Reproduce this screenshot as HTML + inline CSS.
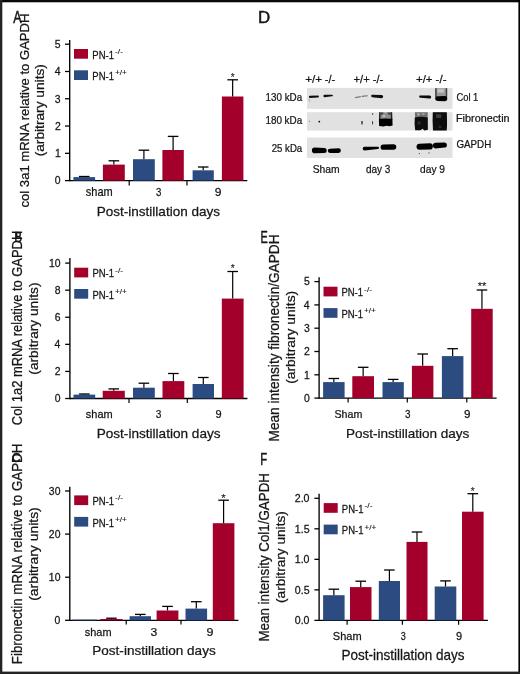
<!DOCTYPE html>
<html><head><meta charset="utf-8"><style>
html,body{margin:0;padding:0;background:#fff;width:520px;height:674px;overflow:hidden}
text{stroke:#161616;stroke-width:.25px}
text.L{stroke-width:.5px}
text.S{stroke-width:.12px}
</style></head><body>
<svg width="520" height="674" viewBox="0 0 520 674" style="display:block;will-change:transform">
<defs><filter id="bl" x="-20%" y="-50%" width="140%" height="200%"><feGaussianBlur stdDeviation="0.45"/></filter><filter id="rg" x="-10%" y="-10%" width="120%" height="120%"><feGaussianBlur stdDeviation="0.75"/></filter></defs>
<g font-family='"Liberation Sans", sans-serif'>
<line x1="69.7" y1="40" x2="69.7" y2="181.25" stroke="#000" stroke-width="1.35"/>
<line x1="65.0" y1="44.2" x2="69.7" y2="44.2" stroke="#000" stroke-width="1.3"/>
<text transform="translate(54.84 47.97) scale(1.0001 1)" font-size="10.4" fill="#161616">5</text>
<line x1="65.0" y1="71.48" x2="69.7" y2="71.48" stroke="#000" stroke-width="1.3"/>
<text transform="translate(54.71 75.31) scale(1.0001 1)" font-size="10.4" fill="#161616">4</text>
<line x1="65.0" y1="98.76" x2="69.7" y2="98.76" stroke="#000" stroke-width="1.3"/>
<text transform="translate(54.87 102.59) scale(1.0001 1)" font-size="10.4" fill="#161616">3</text>
<line x1="65.0" y1="126.04" x2="69.7" y2="126.04" stroke="#000" stroke-width="1.3"/>
<text transform="translate(54.95 129.92) scale(1.0001 1)" font-size="10.4" fill="#161616">2</text>
<line x1="65.0" y1="153.32" x2="69.7" y2="153.32" stroke="#000" stroke-width="1.3"/>
<text transform="translate(54.92 157.14) scale(1.0001 1)" font-size="10.4" fill="#161616">1</text>
<line x1="65.0" y1="180.60000000000002" x2="69.7" y2="180.60000000000002" stroke="#000" stroke-width="1.3"/>
<text transform="translate(54.82 184.43) scale(1.0001 1)" font-size="10.4" fill="#161616">0</text>
<line x1="69.7" y1="180.6" x2="247.3" y2="180.6" stroke="#000" stroke-width="1.35"/>
<line x1="129.2" y1="180.6" x2="129.2" y2="185.4" stroke="#000" stroke-width="1.2"/>
<line x1="187" y1="180.6" x2="187" y2="185.4" stroke="#000" stroke-width="1.2"/>
<rect x="73.4" y="177.1" width="21.69999999999999" height="3.5" fill="#2c4b80"/>
<line x1="84.25" y1="177.1" x2="84.25" y2="176.5" stroke="#000" stroke-width="1.2"/>
<line x1="78.95" y1="176.5" x2="89.55" y2="176.5" stroke="#000" stroke-width="1.3"/>
<rect x="102.9" y="164.6" width="21.89999999999999" height="16.0" fill="#a3002b"/>
<line x1="113.85" y1="164.6" x2="113.85" y2="160.79999999999998" stroke="#000" stroke-width="1.2"/>
<line x1="108.55" y1="160.79999999999998" x2="119.14999999999999" y2="160.79999999999998" stroke="#000" stroke-width="1.3"/>
<rect x="133" y="159.2" width="21.80000000000001" height="21.400000000000006" fill="#2c4b80"/>
<line x1="143.9" y1="159.2" x2="143.9" y2="150.2" stroke="#000" stroke-width="1.2"/>
<line x1="138.6" y1="150.2" x2="149.20000000000002" y2="150.2" stroke="#000" stroke-width="1.3"/>
<rect x="162.4" y="150" width="21.400000000000006" height="30.599999999999994" fill="#a3002b"/>
<line x1="173.10000000000002" y1="150" x2="173.10000000000002" y2="136.39999999999998" stroke="#000" stroke-width="1.2"/>
<line x1="167.8" y1="136.39999999999998" x2="178.40000000000003" y2="136.39999999999998" stroke="#000" stroke-width="1.3"/>
<rect x="192.6" y="170.3" width="21.200000000000017" height="10.299999999999983" fill="#2c4b80"/>
<line x1="203.2" y1="170.3" x2="203.2" y2="167.0" stroke="#000" stroke-width="1.2"/>
<line x1="197.89999999999998" y1="167.0" x2="208.5" y2="167.0" stroke="#000" stroke-width="1.3"/>
<rect x="221.9" y="96.5" width="21.5" height="84.1" fill="#a3002b"/>
<line x1="232.65" y1="96.5" x2="232.65" y2="79.8" stroke="#000" stroke-width="1.2"/>
<line x1="227.35" y1="79.8" x2="237.95000000000002" y2="79.8" stroke="#000" stroke-width="1.3"/>
<text x="230.85" y="80.67" font-size="10.00" fill="#1a1a1a" class="S">*</text>
<text transform="translate(85.80 196.10) scale(0.9281 1)" font-size="11.86" fill="#161616">sham</text>
<text transform="translate(155.94 196.10) scale(0.8237 1)" font-size="11.76" fill="#161616">3</text>
<text transform="translate(214.72 196.10) scale(1.0299 1)" font-size="11.76" fill="#161616">9</text>
<text transform="translate(96.68 215.60) scale(1.0126 1)" font-size="13.38" fill="#161616">Post-instillation days</text>
<rect x="74" y="49" width="14" height="9.7" fill="#a3002b"/>
<rect x="74" y="70.3" width="14" height="9.7" fill="#2c4b80"/>
<text transform="translate(92.32 58.70) scale(0.8825 1)" font-size="10.76" fill="#161616">PN-1</text>
<text transform="translate(115.02 54.00) scale(1.1080 1)" font-size="7.60" fill="#161616" class="S">-/-</text>
<text transform="translate(92.32 80.00) scale(0.8825 1)" font-size="10.76" fill="#161616">PN-1</text>
<text transform="translate(115.01 75.30) scale(1.0721 1)" font-size="7.60" fill="#161616" class="S">+/+</text>
<text transform="translate(29.40 207.46) rotate(-90) scale(0.9575 1)" font-size="13.66" fill="#161616">col 3a1 mRNA relative to GAPDH</text>
<text transform="translate(44.40 156.36) rotate(-90) scale(1.1070 1)" font-size="12.41" fill="#161616">(arbitrary units)</text>
<text transform="translate(13.37 22.80) scale(0.7622 1)" font-size="16.44" fill="#161616" class="L">A</text>
<line x1="69.9" y1="258.1" x2="69.9" y2="399.15" stroke="#000" stroke-width="1.35"/>
<line x1="65.2" y1="263.1" x2="69.9" y2="263.1" stroke="#000" stroke-width="1.3"/>
<text transform="translate(48.95 266.93) scale(1.0001 1)" font-size="10.4" fill="#161616">10</text>
<line x1="65.2" y1="290.18" x2="69.9" y2="290.18" stroke="#000" stroke-width="1.3"/>
<text transform="translate(54.77 294.00) scale(1.0001 1)" font-size="10.4" fill="#161616">8</text>
<line x1="65.2" y1="317.26" x2="69.9" y2="317.26" stroke="#000" stroke-width="1.3"/>
<text transform="translate(54.77 321.08) scale(1.0001 1)" font-size="10.4" fill="#161616">6</text>
<line x1="65.2" y1="344.34000000000003" x2="69.9" y2="344.34000000000003" stroke="#000" stroke-width="1.3"/>
<text transform="translate(54.61 348.17) scale(1.0001 1)" font-size="10.4" fill="#161616">4</text>
<line x1="65.2" y1="371.42" x2="69.9" y2="371.42" stroke="#000" stroke-width="1.3"/>
<text transform="translate(54.85 375.30) scale(1.0001 1)" font-size="10.4" fill="#161616">2</text>
<line x1="65.2" y1="398.5" x2="69.9" y2="398.5" stroke="#000" stroke-width="1.3"/>
<text transform="translate(54.72 402.32) scale(1.0001 1)" font-size="10.4" fill="#161616">0</text>
<line x1="69.9" y1="398.5" x2="247.4" y2="398.5" stroke="#000" stroke-width="1.35"/>
<line x1="129" y1="398.5" x2="129" y2="403.0" stroke="#000" stroke-width="1.2"/>
<line x1="187.3" y1="398.5" x2="187.3" y2="403.0" stroke="#000" stroke-width="1.2"/>
<rect x="73.5" y="394.6" width="21.700000000000003" height="3.8999999999999773" fill="#2c4b80"/>
<line x1="84.35" y1="394.6" x2="84.35" y2="394.0" stroke="#000" stroke-width="1.2"/>
<line x1="79.05" y1="394.0" x2="89.64999999999999" y2="394.0" stroke="#000" stroke-width="1.3"/>
<rect x="102.7" y="390.8" width="22.099999999999994" height="7.699999999999989" fill="#a3002b"/>
<line x1="113.75" y1="390.8" x2="113.75" y2="388.9" stroke="#000" stroke-width="1.2"/>
<line x1="108.45" y1="388.9" x2="119.05" y2="388.9" stroke="#000" stroke-width="1.3"/>
<rect x="133" y="387.7" width="21.80000000000001" height="10.800000000000011" fill="#2c4b80"/>
<line x1="143.9" y1="387.7" x2="143.9" y2="383.2" stroke="#000" stroke-width="1.2"/>
<line x1="138.6" y1="383.2" x2="149.20000000000002" y2="383.2" stroke="#000" stroke-width="1.3"/>
<rect x="162.5" y="381.1" width="21.80000000000001" height="17.399999999999977" fill="#a3002b"/>
<line x1="173.4" y1="381.1" x2="173.4" y2="373.5" stroke="#000" stroke-width="1.2"/>
<line x1="168.1" y1="373.5" x2="178.70000000000002" y2="373.5" stroke="#000" stroke-width="1.3"/>
<rect x="192.6" y="384" width="21.400000000000006" height="14.5" fill="#2c4b80"/>
<line x1="203.3" y1="384" x2="203.3" y2="377.5" stroke="#000" stroke-width="1.2"/>
<line x1="198.0" y1="377.5" x2="208.60000000000002" y2="377.5" stroke="#000" stroke-width="1.3"/>
<rect x="221.8" y="298.6" width="21.799999999999983" height="99.89999999999998" fill="#a3002b"/>
<line x1="232.7" y1="298.6" x2="232.7" y2="271.5" stroke="#000" stroke-width="1.2"/>
<line x1="227.39999999999998" y1="271.5" x2="238.0" y2="271.5" stroke="#000" stroke-width="1.3"/>
<text x="230.69" y="272.47" font-size="10.29" fill="#1a1a1a" class="S">*</text>
<text transform="translate(85.80 417.90) scale(0.9502 1)" font-size="11.59" fill="#161616">sham</text>
<text transform="translate(155.82 417.90) scale(0.8596 1)" font-size="11.76" fill="#161616">3</text>
<text transform="translate(215.38 417.90) scale(0.9380 1)" font-size="11.76" fill="#161616">9</text>
<text transform="translate(96.68 437.70) scale(1.0064 1)" font-size="13.52" fill="#161616">Post-instillation days</text>
<rect x="74.2" y="267.7" width="14" height="9.7" fill="#a3002b"/>
<rect x="74.2" y="289" width="14" height="9.7" fill="#2c4b80"/>
<text transform="translate(92.42 277.40) scale(0.8825 1)" font-size="10.76" fill="#161616">PN-1</text>
<text transform="translate(115.12 272.70) scale(1.1080 1)" font-size="7.60" fill="#161616" class="S">-/-</text>
<text transform="translate(92.42 298.70) scale(0.8825 1)" font-size="10.76" fill="#161616">PN-1</text>
<text transform="translate(115.11 294.00) scale(1.0721 1)" font-size="7.60" fill="#161616" class="S">+/+</text>
<text transform="translate(22.20 425.15) rotate(-90) scale(0.8837 1)" font-size="14.62" fill="#161616">Col 1a2 mRNA relative to GAPDH</text>
<text transform="translate(38.20 374.66) rotate(-90) scale(1.0144 1)" font-size="13.52" fill="#161616">(arbitrary units)</text>
<text transform="translate(14.34 242.40) scale(0.7925 1)" font-size="14.69" fill="#161616" class="L">B</text>
<line x1="69.8" y1="486.7" x2="69.8" y2="621.05" stroke="#000" stroke-width="1.35"/>
<line x1="65.1" y1="491.0" x2="69.8" y2="491.0" stroke="#000" stroke-width="1.3"/>
<text transform="translate(48.85 494.82) scale(1.0001 1)" font-size="10.4" fill="#161616">30</text>
<line x1="65.1" y1="534.1" x2="69.8" y2="534.1" stroke="#000" stroke-width="1.3"/>
<text transform="translate(48.85 537.93) scale(1.0001 1)" font-size="10.4" fill="#161616">20</text>
<line x1="65.1" y1="577.2" x2="69.8" y2="577.2" stroke="#000" stroke-width="1.3"/>
<text transform="translate(48.85 581.03) scale(1.0001 1)" font-size="10.4" fill="#161616">10</text>
<line x1="65.1" y1="620.3" x2="69.8" y2="620.3" stroke="#000" stroke-width="1.3"/>
<text transform="translate(54.62 624.12) scale(1.0001 1)" font-size="10.4" fill="#161616">0</text>
<line x1="69.8" y1="620.4" x2="238.4" y2="620.4" stroke="#000" stroke-width="1.35"/>
<line x1="126.2" y1="620.4" x2="126.2" y2="624.6" stroke="#000" stroke-width="1.2"/>
<line x1="181" y1="620.4" x2="181" y2="624.6" stroke="#000" stroke-width="1.2"/>
<rect x="72.5" y="619.6" width="24.0" height="0.7999999999999545" fill="#2c4b80"/>
<rect x="100.4" y="619.0" width="22.099999999999994" height="1.3999999999999773" fill="#a3002b"/>
<line x1="111.45" y1="619.0" x2="111.45" y2="618.2" stroke="#000" stroke-width="1.2"/>
<line x1="106.15" y1="618.2" x2="116.75" y2="618.2" stroke="#000" stroke-width="1.3"/>
<rect x="129.6" y="616.2" width="21.400000000000006" height="4.199999999999932" fill="#2c4b80"/>
<line x1="140.3" y1="616.2" x2="140.3" y2="614.4000000000001" stroke="#000" stroke-width="1.2"/>
<line x1="135.0" y1="614.4000000000001" x2="145.60000000000002" y2="614.4000000000001" stroke="#000" stroke-width="1.3"/>
<rect x="156.6" y="610.5" width="21.80000000000001" height="9.899999999999977" fill="#a3002b"/>
<line x1="167.5" y1="610.5" x2="167.5" y2="606.4000000000001" stroke="#000" stroke-width="1.2"/>
<line x1="162.2" y1="606.4000000000001" x2="172.8" y2="606.4000000000001" stroke="#000" stroke-width="1.3"/>
<rect x="185.5" y="608.6" width="21.599999999999994" height="11.799999999999955" fill="#2c4b80"/>
<line x1="196.3" y1="608.6" x2="196.3" y2="601.7" stroke="#000" stroke-width="1.2"/>
<line x1="191.0" y1="601.7" x2="201.60000000000002" y2="601.7" stroke="#000" stroke-width="1.3"/>
<rect x="212.8" y="523.2" width="21.599999999999994" height="97.19999999999993" fill="#a3002b"/>
<line x1="223.60000000000002" y1="523.2" x2="223.60000000000002" y2="500.2" stroke="#000" stroke-width="1.2"/>
<line x1="218.3" y1="500.2" x2="228.90000000000003" y2="500.2" stroke="#000" stroke-width="1.3"/>
<text x="221.37" y="502.16" font-size="11.43" fill="#1a1a1a" class="S">*</text>
<text transform="translate(84.80 635.80) scale(0.9466 1)" font-size="11.59" fill="#161616">sham</text>
<text transform="translate(150.54 635.80) scale(1.0386 1)" font-size="11.76" fill="#161616">3</text>
<text transform="translate(206.60 635.80) scale(1.0667 1)" font-size="11.76" fill="#161616">9</text>
<text transform="translate(92.28 655.00) scale(1.0449 1)" font-size="12.97" fill="#161616">Post-instillation days</text>
<rect x="74.2" y="495.4" width="14" height="9.7" fill="#a3002b"/>
<rect x="74.2" y="516.9" width="14" height="9.7" fill="#2c4b80"/>
<text transform="translate(92.42 505.10) scale(0.8825 1)" font-size="10.76" fill="#161616">PN-1</text>
<text transform="translate(115.12 500.40) scale(1.1080 1)" font-size="7.60" fill="#161616" class="S">-/-</text>
<text transform="translate(92.42 526.60) scale(0.8825 1)" font-size="10.76" fill="#161616">PN-1</text>
<text transform="translate(115.11 521.90) scale(1.0721 1)" font-size="7.60" fill="#161616" class="S">+/+</text>
<text transform="translate(21.90 664.20) rotate(-90) scale(0.9375 1)" font-size="14.21" fill="#161616">Fibronectin mRNA relative to GAPDH</text>
<text transform="translate(38.20 600.87) rotate(-90) scale(1.0301 1)" font-size="13.52" fill="#161616">(arbitrary units)</text>
<text transform="translate(12.11 462.00) scale(0.8672 1)" font-size="13.62" fill="#161616" class="L">C</text>
<line x1="319.1" y1="277.3" x2="319.1" y2="398.75" stroke="#000" stroke-width="1.35"/>
<line x1="314.40000000000003" y1="281.6" x2="319.1" y2="281.6" stroke="#000" stroke-width="1.3"/>
<text transform="translate(303.94 285.37) scale(1.0001 1)" font-size="10.4" fill="#161616">5</text>
<line x1="314.40000000000003" y1="304.90000000000003" x2="319.1" y2="304.90000000000003" stroke="#000" stroke-width="1.3"/>
<text transform="translate(303.81 308.73) scale(1.0001 1)" font-size="10.4" fill="#161616">4</text>
<line x1="314.40000000000003" y1="328.20000000000005" x2="319.1" y2="328.20000000000005" stroke="#000" stroke-width="1.3"/>
<text transform="translate(303.97 332.03) scale(1.0001 1)" font-size="10.4" fill="#161616">3</text>
<line x1="314.40000000000003" y1="351.5" x2="319.1" y2="351.5" stroke="#000" stroke-width="1.3"/>
<text transform="translate(304.05 355.38) scale(1.0001 1)" font-size="10.4" fill="#161616">2</text>
<line x1="314.40000000000003" y1="374.8" x2="319.1" y2="374.8" stroke="#000" stroke-width="1.3"/>
<text transform="translate(304.02 378.62) scale(1.0001 1)" font-size="10.4" fill="#161616">1</text>
<line x1="314.40000000000003" y1="398.1" x2="319.1" y2="398.1" stroke="#000" stroke-width="1.3"/>
<text transform="translate(303.92 401.93) scale(1.0001 1)" font-size="10.4" fill="#161616">0</text>
<line x1="319.1" y1="398.1" x2="496.6" y2="398.1" stroke="#000" stroke-width="1.35"/>
<line x1="348.1" y1="398.1" x2="348.1" y2="402.6" stroke="#000" stroke-width="1.2"/>
<line x1="407.3" y1="398.1" x2="407.3" y2="402.6" stroke="#000" stroke-width="1.2"/>
<line x1="466.8" y1="398.1" x2="466.8" y2="402.6" stroke="#000" stroke-width="1.2"/>
<rect x="323.1" y="382.1" width="21.5" height="16.0" fill="#2c4b80"/>
<line x1="333.85" y1="382.1" x2="333.85" y2="378.5" stroke="#000" stroke-width="1.2"/>
<line x1="328.55" y1="378.5" x2="339.15000000000003" y2="378.5" stroke="#000" stroke-width="1.3"/>
<rect x="352.3" y="376.2" width="21.69999999999999" height="21.900000000000034" fill="#a3002b"/>
<line x1="363.15" y1="376.2" x2="363.15" y2="367.3" stroke="#000" stroke-width="1.2"/>
<line x1="357.84999999999997" y1="367.3" x2="368.45" y2="367.3" stroke="#000" stroke-width="1.3"/>
<rect x="382.5" y="382.1" width="21.30000000000001" height="16.0" fill="#2c4b80"/>
<line x1="393.15" y1="382.1" x2="393.15" y2="379.4" stroke="#000" stroke-width="1.2"/>
<line x1="387.84999999999997" y1="379.4" x2="398.45" y2="379.4" stroke="#000" stroke-width="1.3"/>
<rect x="411.9" y="365.8" width="21.5" height="32.30000000000001" fill="#a3002b"/>
<line x1="422.65" y1="365.8" x2="422.65" y2="354.0" stroke="#000" stroke-width="1.2"/>
<line x1="417.34999999999997" y1="354.0" x2="427.95" y2="354.0" stroke="#000" stroke-width="1.3"/>
<rect x="441.9" y="356.1" width="21.5" height="42.0" fill="#2c4b80"/>
<line x1="452.65" y1="356.1" x2="452.65" y2="348.7" stroke="#000" stroke-width="1.2"/>
<line x1="447.34999999999997" y1="348.7" x2="457.95" y2="348.7" stroke="#000" stroke-width="1.3"/>
<rect x="471.2" y="308.8" width="21.5" height="89.30000000000001" fill="#a3002b"/>
<line x1="481.95" y1="308.8" x2="481.95" y2="290.0" stroke="#000" stroke-width="1.2"/>
<line x1="476.65" y1="290.0" x2="487.25" y2="290.0" stroke="#000" stroke-width="1.3"/>
<text x="477.75" y="290.36" font-size="11.14" fill="#1a1a1a" class="S">**</text>
<text transform="translate(334.42 417.70) scale(0.9917 1)" font-size="10.76" fill="#161616">Sham</text>
<text transform="translate(404.93 417.70) scale(0.8848 1)" font-size="11.18" fill="#161616">3</text>
<text transform="translate(464.05 417.70) scale(1.0441 1)" font-size="11.18" fill="#161616">9</text>
<text transform="translate(345.98 437.50) scale(0.9914 1)" font-size="13.66" fill="#161616">Post-instillation days</text>
<rect x="323.5" y="286.7" width="14" height="9.7" fill="#a3002b"/>
<rect x="323.5" y="308.1" width="14" height="9.7" fill="#2c4b80"/>
<text transform="translate(341.42 296.40) scale(0.8825 1)" font-size="10.76" fill="#161616">PN-1</text>
<text transform="translate(364.12 291.70) scale(1.1080 1)" font-size="7.60" fill="#161616" class="S">-/-</text>
<text transform="translate(341.42 317.80) scale(0.8825 1)" font-size="10.76" fill="#161616">PN-1</text>
<text transform="translate(364.11 313.10) scale(1.0721 1)" font-size="7.60" fill="#161616" class="S">+/+</text>
<text transform="translate(278.80 441.43) rotate(-90) scale(0.9604 1)" font-size="14.21" fill="#161616">Mean intensity fibronectin/GAPDH</text>
<text transform="translate(294.50 383.87) rotate(-90) scale(1.0245 1)" font-size="13.52" fill="#161616">(arbitrary units)</text>
<text transform="translate(260.40 243.20) scale(0.6676 1)" font-size="16.29" fill="#161616" class="L">E</text>
<line x1="319.1" y1="493.8" x2="319.1" y2="621.05" stroke="#000" stroke-width="1.35"/>
<line x1="314.40000000000003" y1="498.3" x2="319.1" y2="498.3" stroke="#000" stroke-width="1.3"/>
<text transform="translate(294.76 502.19) scale(1.0001 1)" font-size="10.6" fill="#161616">2.0</text>
<line x1="314.40000000000003" y1="528.82" x2="319.1" y2="528.82" stroke="#000" stroke-width="1.3"/>
<text transform="translate(294.79 532.66) scale(1.0001 1)" font-size="10.6" fill="#161616">1.5</text>
<line x1="314.40000000000003" y1="559.34" x2="319.1" y2="559.34" stroke="#000" stroke-width="1.3"/>
<text transform="translate(294.76 563.23) scale(1.0001 1)" font-size="10.6" fill="#161616">1.0</text>
<line x1="314.40000000000003" y1="589.86" x2="319.1" y2="589.86" stroke="#000" stroke-width="1.3"/>
<text transform="translate(294.79 593.75) scale(1.0001 1)" font-size="10.6" fill="#161616">0.5</text>
<line x1="314.40000000000003" y1="620.38" x2="319.1" y2="620.38" stroke="#000" stroke-width="1.3"/>
<text transform="translate(294.76 624.27) scale(1.0001 1)" font-size="10.6" fill="#161616">0.0</text>
<line x1="319.1" y1="620.4" x2="487.9" y2="620.4" stroke="#000" stroke-width="1.35"/>
<line x1="347.1" y1="620.4" x2="347.1" y2="624.6999999999999" stroke="#000" stroke-width="1.2"/>
<line x1="402.4" y1="620.4" x2="402.4" y2="624.6999999999999" stroke="#000" stroke-width="1.2"/>
<line x1="458.6" y1="620.4" x2="458.6" y2="624.6999999999999" stroke="#000" stroke-width="1.2"/>
<rect x="323.1" y="595.2" width="21.5" height="25.199999999999932" fill="#2c4b80"/>
<line x1="333.85" y1="595.2" x2="333.85" y2="589.2" stroke="#000" stroke-width="1.2"/>
<line x1="328.55" y1="589.2" x2="339.15000000000003" y2="589.2" stroke="#000" stroke-width="1.3"/>
<rect x="350" y="587.1" width="21.5" height="33.299999999999955" fill="#a3002b"/>
<line x1="360.75" y1="587.1" x2="360.75" y2="581.2" stroke="#000" stroke-width="1.2"/>
<line x1="355.45" y1="581.2" x2="366.05" y2="581.2" stroke="#000" stroke-width="1.3"/>
<rect x="378.8" y="581" width="21.19999999999999" height="39.39999999999998" fill="#2c4b80"/>
<line x1="389.4" y1="581" x2="389.4" y2="570.0" stroke="#000" stroke-width="1.2"/>
<line x1="384.09999999999997" y1="570.0" x2="394.7" y2="570.0" stroke="#000" stroke-width="1.3"/>
<rect x="406.5" y="541.9" width="21.0" height="78.5" fill="#a3002b"/>
<line x1="417.0" y1="541.9" x2="417.0" y2="532.0" stroke="#000" stroke-width="1.2"/>
<line x1="411.7" y1="532.0" x2="422.3" y2="532.0" stroke="#000" stroke-width="1.3"/>
<rect x="434.7" y="586.5" width="21.600000000000023" height="33.89999999999998" fill="#2c4b80"/>
<line x1="445.5" y1="586.5" x2="445.5" y2="580.9000000000001" stroke="#000" stroke-width="1.2"/>
<line x1="440.2" y1="580.9000000000001" x2="450.8" y2="580.9000000000001" stroke="#000" stroke-width="1.3"/>
<rect x="462" y="511.7" width="21.600000000000023" height="108.69999999999999" fill="#a3002b"/>
<line x1="472.8" y1="511.7" x2="472.8" y2="493.7" stroke="#000" stroke-width="1.2"/>
<line x1="467.5" y1="493.7" x2="478.1" y2="493.7" stroke="#000" stroke-width="1.3"/>
<text x="470.85" y="494.88" font-size="10.00" fill="#1a1a1a" class="S">*</text>
<text transform="translate(332.80 639.50) scale(1.0384 1)" font-size="10.62" fill="#161616">Sham</text>
<text transform="translate(400.66 639.50) scale(0.8200 1)" font-size="11.04" fill="#161616">3</text>
<text transform="translate(456.08 639.50) scale(0.9989 1)" font-size="11.04" fill="#161616">9</text>
<text transform="translate(341.48 659.50) scale(0.9806 1)" font-size="13.79" fill="#161616">Post-instillation days</text>
<rect x="323.7" y="503.1" width="14" height="9.7" fill="#a3002b"/>
<rect x="323.7" y="524.6" width="14" height="9.7" fill="#2c4b80"/>
<text transform="translate(341.82 512.80) scale(0.8825 1)" font-size="10.76" fill="#161616">PN-1</text>
<text transform="translate(364.52 508.10) scale(1.1080 1)" font-size="7.60" fill="#161616" class="S">-/-</text>
<text transform="translate(341.82 534.30) scale(0.8825 1)" font-size="10.76" fill="#161616">PN-1</text>
<text transform="translate(364.51 529.60) scale(1.0721 1)" font-size="7.60" fill="#161616" class="S">+/+</text>
<text transform="translate(268.80 641.50) rotate(-90) scale(0.9400 1)" font-size="14.21" fill="#161616">Mean intensity Col1/GAPDH</text>
<text transform="translate(284.90 602.95) rotate(-90) scale(1.0321 1)" font-size="13.24" fill="#161616">(arbitrary units)</text>
<text transform="translate(260.37 465.20) scale(0.6573 1)" font-size="17.16" fill="#161616" class="L">F</text>
<rect x="307.0" y="87.9" width="145.5" height="21.0" fill="#e1e1e1"/>
<rect x="307.0" y="112.2" width="145.5" height="18.39999999999999" fill="#e1e1e1"/>
<rect x="307.0" y="137.5" width="145.5" height="20.5" fill="#e1e1e1"/>
<g filter="url(#bl)">
<path d="M310.05,95.75 L317.90,95.50 Q318.90,95.50 318.90,96.50 Q318.90,97.50 317.90,97.50 L310.05,98.05 Q308.90,98.05 308.90,96.90 Q308.90,95.75 310.05,95.75Z" fill="#111" opacity="1.0"/>
<path d="M309.10,99.00 L310.00,101.10 Q310.40,101.10 310.40,101.50 Q310.40,101.90 310.00,101.90 L309.10,100.00 Q308.60,100.00 308.60,99.50 Q308.60,99.00 309.10,99.00Z" fill="#333" opacity="0.6"/>
<path d="M324.65,94.75 L332.10,94.70 Q332.90,94.70 332.90,95.50 Q332.90,96.30 332.10,96.30 L324.65,97.25 Q323.40,97.25 323.40,96.00 Q323.40,94.75 324.65,94.75Z" fill="#111" opacity="1.0"/>
<path d="M355.40,97.00 L360.40,96.00 Q361.00,96.00 361.00,96.60 Q361.00,97.20 360.40,97.20 L355.40,98.20 Q354.80,98.20 354.80,97.60 Q354.80,97.00 355.40,97.00Z" fill="#222" opacity="0.55"/>
<path d="M362.15,95.65 L367.25,95.25 Q367.80,95.25 367.80,95.80 Q367.80,96.35 367.25,96.35 L362.15,96.95 Q361.50,96.95 361.50,96.30 Q361.50,95.65 362.15,95.65Z" fill="#222" opacity="0.6"/>
<path d="M372.35,94.85 L381.50,94.90 Q383.20,94.90 383.20,96.60 Q383.20,98.30 381.50,98.30 L372.35,97.15 Q371.20,97.15 371.20,96.00 Q371.20,94.85 372.35,94.85Z" fill="#0a0a0a" opacity="1.0"/>
<path d="M420.20,95.50 L429.60,95.40 Q431.20,95.40 431.20,97.00 Q431.20,98.60 429.60,98.60 L420.20,97.70 Q419.10,97.70 419.10,96.60 Q419.10,95.50 420.20,95.50Z" fill="#0a0a0a" opacity="1.0"/>
<rect x="435.3" y="88.2" width="11.8" height="8.5" fill="#9a9a9a"/>
<rect x="437.5" y="89.2" width="6.5" height="3.5" fill="#c4c4c4"/>
<rect x="435.2" y="88.2" width="1.4" height="9" fill="#222" opacity="0.8"/>
<rect x="445.8" y="88.2" width="1.4" height="9" fill="#222" opacity="0.8"/>
<path d="M437.50,96.20 L444.70,96.00 Q447.30,96.00 447.30,98.60 Q447.30,101.20 444.70,101.20 L437.50,101.00 Q435.10,101.00 435.10,98.60 Q435.10,96.20 437.50,96.20Z" fill="#000" opacity="1.0"/>
<circle cx="319.3" cy="121.6" r="0.9" fill="#000"/>
<circle cx="309.6" cy="121.2" r="0.5" fill="#555"/>
<rect x="361.4" y="121.0" width="1.2" height="3.4" fill="#111"/>
<rect x="372.1" y="113.2" width="1.0" height="1.6" fill="#333"/>
<rect x="372.1" y="121.2" width="1.0" height="3.2" fill="#333"/>
</g><g filter="url(#rg)">
<rect x="379.2" y="112.4" width="12.8" height="7" fill="#8e8e8e"/>
<path d="M379.2,112.3 L380.6,112.3 L380.4,119.5 L379.0,119.5Z" fill="#222"/>
<path d="M390.7,112.3 L392.2,112.3 L392.4,119.5 L390.9,119.5Z" fill="#222"/>
<path d="M380.5,112.4 L383.5,112.4 L383,114.6 L381,115Z" fill="#444"/>
<path d="M387.5,112.4 L390.8,112.4 L390.5,115 L388,114.4Z" fill="#444"/>
<rect x="382.6" y="114.8" width="2.5" height="2.4" fill="#bbb"/>
<path d="M378.9,118.9 L385,118.4 L392.4,118.7 L392.6,125.6 L389.5,126.3 L386.5,125.7 L383.5,126.5 L379.1,125.9Z" fill="#060606"/>
<path d="M414.9,112.3 L427.8,112.3 L427.6,118.5 L415.2,118.8Z" fill="#6e6e6e"/>
<rect x="417.2" y="113.3" width="2.6" height="2.2" fill="#b0b0b0"/>
<rect x="421.8" y="113.0" width="3.0" height="2.0" fill="#9a9a9a"/>
<path d="M414.8,117.6 L421,116.8 L427.8,117.4 L427.9,129.8 L424.5,130.4 L422.5,128.8 L420.5,130.3 L415.2,130.2 L414.6,124Z" fill="#0b0b0b"/>
<rect x="417.2" y="121.5" width="3.5" height="3" fill="#2a2a2a"/>
<path d="M432.8,112.3 L446.8,112.3 L447,124 L446.7,130.5 L433,130.5 L432.6,121Z" fill="#070707"/>
<rect x="435.8" y="114.2" width="5.5" height="4.0" fill="#3a3a3a"/>
<rect x="438.5" y="125.5" width="3.0" height="2.5" fill="#2a2a2a"/>
</g><g filter="url(#bl)">
<path d="M314.70,147.60 L324.20,147.90 Q326.70,147.90 326.70,150.40 Q326.70,152.90 324.20,152.90 L314.70,153.20 Q311.90,153.20 311.90,150.40 Q311.90,147.60 314.70,147.60Z" fill="#000" opacity="1.0"/>
<path d="M329.90,148.70 L338.50,148.20 Q340.90,148.20 340.90,150.60 Q340.90,153.00 338.50,153.00 L329.90,152.90 Q327.80,152.90 327.80,150.80 Q327.80,148.70 329.90,148.70Z" fill="#000" opacity="1.0"/>
<path d="M364.65,146.65 L377.85,146.75 Q379.00,146.75 379.00,147.90 Q379.00,149.05 377.85,149.05 L364.65,150.55 Q362.70,150.55 362.70,148.60 Q362.70,146.65 364.65,146.65Z" fill="#000" opacity="1.0"/>
<path d="M383.20,144.60 L393.50,144.20 Q396.30,144.20 396.30,147.00 Q396.30,149.80 393.50,149.80 L383.20,149.80 Q380.60,149.80 380.60,147.20 Q380.60,144.60 383.20,144.60Z" fill="#000" opacity="1.0"/>
<path d="M419.50,143.80 L429.80,143.30 Q432.90,143.30 432.90,146.40 Q432.90,149.50 429.80,149.50 L419.50,149.80 Q416.50,149.80 416.50,146.80 Q416.50,143.80 419.50,143.80Z" fill="#000" opacity="1.0"/>
<path d="M435.70,142.80 L444.30,142.40 Q446.90,142.40 446.90,145.00 Q446.90,147.60 444.30,147.60 L435.70,148.40 Q432.90,148.40 432.90,145.60 Q432.90,142.80 435.70,142.80Z" fill="#000" opacity="1.0"/>
<circle cx="419.4" cy="153.6" r="0.6" fill="#444"/>
<circle cx="429" cy="152.9" r="0.6" fill="#444"/>
</g>
<text transform="translate(265.46 100.80) scale(0.9534 1)" font-size="10.34" fill="#161616">130 kDa</text>
<text transform="translate(265.46 123.90) scale(0.9663 1)" font-size="10.21" fill="#161616">180 kDa</text>
<text transform="translate(271.72 151.70) scale(0.9420 1)" font-size="10.21" fill="#161616">25 kDa</text>
<text transform="translate(456.43 100.80) scale(0.9206 1)" font-size="10.21" fill="#161616">Col 1</text>
<text transform="translate(456.01 122.30) scale(1.0614 1)" font-size="10.21" fill="#161616">Fibronectin</text>
<text transform="translate(456.41 147.70) scale(0.9247 1)" font-size="10.61" fill="#161616">GAPDH</text>
<text transform="translate(305.24 82.90) scale(1.0878 1)" font-size="10.76" fill="#161616">+/+</text>
<text transform="translate(324.81 82.90) scale(1.0219 1)" font-size="10.76" fill="#161616">-/-</text>
<text transform="translate(353.57 82.90) scale(1.0396 1)" font-size="10.76" fill="#161616">+/+</text>
<text transform="translate(372.81 82.90) scale(1.0219 1)" font-size="10.76" fill="#161616">-/-</text>
<text transform="translate(415.95 82.90) scale(1.0672 1)" font-size="10.76" fill="#161616">+/+</text>
<text transform="translate(435.58 82.90) scale(1.0762 1)" font-size="10.76" fill="#161616">-/-</text>
<text transform="translate(312.64 172.80) scale(0.9343 1)" font-size="11.03" fill="#161616">Sham</text>
<text transform="translate(365.98 172.80) scale(0.9177 1)" font-size="10.90" fill="#161616">day 3</text>
<text transform="translate(420.07 172.80) scale(0.9343 1)" font-size="10.90" fill="#161616">day 9</text>
<text transform="translate(258.01 23.10) scale(0.9751 1)" font-size="17.31" fill="#161616" class="L">D</text>
</g>
<rect x="0" y="0" width="520" height="2.3" fill="#0a0a0a"/>
<rect x="0" y="0" width="2.3" height="674" fill="#242424"/>
<rect x="518.4" y="0" width="1.6" height="674" fill="#000"/>
<rect x="0" y="671.6" width="520" height="2.4" fill="#232323"/>
</svg>
</body></html>
